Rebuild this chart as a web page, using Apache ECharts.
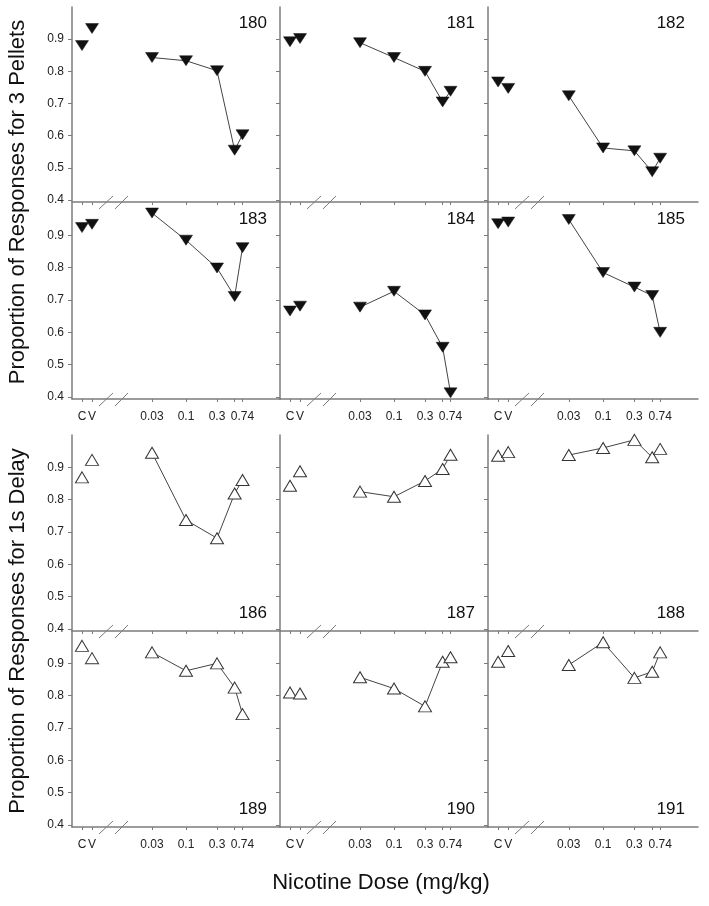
<!DOCTYPE html>
<html><head><meta charset="utf-8">
<script src="https://cdn.jsdelivr.net/npm/echarts@6/dist/echarts.min.js"></script>
<style>html,body{margin:0;padding:0;background:#fff}#c{width:709px;height:906px}</style>
</head><body><div id="c"></div>
<script>
// ---------- data ----------
const doses = [0.03, 0.1, 0.3, 0.56, 0.74];
const doseTickLabels = ['0.03', '0.1', '0.3', '', '0.74'];
const controlLabels = ['C', 'V'];
const yTicks = [0.4, 0.5, 0.6, 0.7, 0.8, 0.9];
const subjects = ['180','181','182','183','184','185','186','187','188','189','190','191'];

// C, V values
const c180 = [0.88, 0.933];  const d180 = [0.843, 0.833, 0.802, 0.555, 0.603];
const c181 = [0.892, 0.902]; const d181 = [0.889, 0.843, 0.800, 0.705, 0.738];
const c182 = [0.767, 0.747]; const d182 = [0.724, 0.562, 0.553, 0.488, 0.530];
const c183 = [0.924, 0.934]; const d183 = [0.969, 0.885, 0.799, 0.711, 0.862];
const c184 = [0.666, 0.681]; const d184 = [0.678, 0.727, 0.654, 0.554, 0.413];
const c185 = [0.936, 0.941]; const d185 = [0.949, 0.785, 0.740, 0.714, 0.600];
const c186 = [0.869, 0.923]; const d186 = [0.945, 0.737, 0.681, 0.819, 0.861];
const c187 = [0.843, 0.888]; const d187 = [0.825, 0.809, 0.858, 0.895, 0.939];
const c188 = [0.936, 0.947]; const d188 = [0.938, 0.960, 0.985, 0.931, 0.957];
const c189 = [0.954, 0.916]; const d189 = [0.934, 0.877, 0.900, 0.825, 0.743];
const c190 = [0.810, 0.807]; const d190 = [0.857, 0.822, 0.767, 0.905, 0.919];
const c191 = [0.905, 0.938]; const d191 = [0.895, 0.965, 0.855, 0.874, 0.934];

const ctrlData = [c180,c181,c182,c183,c184,c185,c186,c187,c188,c189,c190,c191];
const doseData = [d180,d181,d182,d183,d184,d185,d186,d187,d188,d189,d190,d191];

// ---------- layout ----------
const CTRL_POS = [-2.600, -2.446];   // axis positions (log units) of C and V
const X_MIN = -2.754, X_MAX = 0.446;
const Y_MIN = 0.394, Y_MAX = 1.0;
const lefts = [72, 280, 488], widths = [208, 208, 210];
const tops = [7, 203, 435, 631], heights = [195, 196, 196, 196];
const AX = '#7c7c7c';
const FONT = 'Liberation Sans, Arial, sans-serif';

const doseLog = doses.map(d => Math.log10(d));
const tickVals = CTRL_POS.concat(doseLog);
const labelMap = [];
CTRL_POS.forEach((p, i) => labelMap.push([p, controlLabels[i]]));
doseLog.forEach((p, i) => { if (doseTickLabels[i]) labelMap.push([p, doseTickLabels[i]]); });
const labelVals = labelMap.map(m => m[0]);
function xFmt(v) {
  for (const m of labelMap) if (Math.abs(m[0] - v) < 1e-6) return m[1];
  return '';
}

const grids = [], xAxes = [], yAxes = [], series = [], graphics = [];
subjects.forEach((s, i) => {
  const row = Math.floor(i / 3), col = i % 3;
  const L = lefts[col], T = tops[row], W = widths[col], H = heights[row];
  grids.push({ left: L, top: T, width: W, height: H, containLabel: false, outerBoundsMode: 'none' });
  xAxes.push({
    type: 'value', gridIndex: i, min: X_MIN, max: X_MAX,
    axisLine: { show: true, onZero: false, lineStyle: { color: AX, width: 1.5 } },
    axisTick: { show: true, inside: false, length: 3, customValues: tickVals, lineStyle: { color: AX, width: 1 } },
    axisLabel: { show: row % 2 === 1, customValues: labelVals, formatter: xFmt, margin: 12,
      fontSize: 12, color: '#222', fontFamily: FONT, hideOverlap: false },
    splitLine: { show: false }
  });
  yAxes.push({
    type: 'value', gridIndex: i, min: Y_MIN, max: Y_MAX,
    axisLine: { show: true, onZero: false, lineStyle: { color: AX, width: 1.5 } },
    axisTick: { show: true, inside: false, length: 4, customValues: yTicks, lineStyle: { color: AX, width: 1 } },
    axisLabel: { show: col === 0, customValues: yTicks, formatter: v => v.toFixed(1), margin: 8,
      fontSize: 12, color: '#222', fontFamily: FONT },
    splitLine: { show: false }
  });
  const filled = row < 2;
  const sym = filled
    ? { symbol: 'triangle', symbolRotate: 180, symbolSize: [13, 10], itemStyle: { color: '#111', borderColor: '#111', borderWidth: 0.5, opacity: 1 } }
    : { symbol: 'triangle', symbolRotate: 0, symbolSize: [13, 11], itemStyle: { color: '#fff', borderColor: '#333', borderWidth: 1, opacity: 1 } };
  series.push(Object.assign({
    type: 'scatter', xAxisIndex: i, yAxisIndex: i, z: 3,
    data: CTRL_POS.map((p, k) => [p, ctrlData[i][k]])
  }, sym));
  series.push(Object.assign({
    type: 'line', xAxisIndex: i, yAxisIndex: i, z: 3, showSymbol: true,
    lineStyle: { color: '#444', width: 1 },
    data: doseLog.map((p, k) => [p, doseData[i][k]])
  }, sym));
  // panel label
  graphics.push({
    type: 'text', z: 10,
    style: { text: s, x: L + W - 13, y: row < 2 ? T + 16 : T + H - 18,
      textAlign: 'right', textVerticalAlign: 'middle', align: 'right', verticalAlign: 'middle',
      fontSize: 17, fontFamily: FONT, fill: '#111' }
  });
  // axis break marks
  const B = T + H;
  [[27, 41], [43, 56]].forEach(([a, b]) => {
    graphics.push({ type: 'line', z: 10,
      shape: { x1: L + a, y1: B + 7, x2: L + b, y2: B - 6 },
      style: { stroke: AX, lineWidth: 1 } });
  });
});

graphics.push({ type: 'text', z: 10, x: 18, y: 202, rotation: Math.PI / 2,
  style: { text: 'Proportion of Responses for 3 Pellets', x: 0, y: 0, textAlign: 'center', textVerticalAlign: 'middle',
    align: 'center', verticalAlign: 'middle', fontSize: 22, fontFamily: FONT, fill: '#111' } });
graphics.push({ type: 'text', z: 10, x: 18, y: 631, rotation: Math.PI / 2,
  style: { text: 'Proportion of Responses for 1s Delay', x: 0, y: 0, textAlign: 'center', textVerticalAlign: 'middle',
    align: 'center', verticalAlign: 'middle', fontSize: 22, fontFamily: FONT, fill: '#111' } });
graphics.push({ type: 'text', z: 10,
  style: { text: 'Nicotine Dose (mg/kg)', x: 381, y: 883, textAlign: 'center', textVerticalAlign: 'middle',
    align: 'center', verticalAlign: 'middle', fontSize: 22, fontFamily: FONT, fill: '#111' } });

const chart = echarts.init(document.getElementById('c'), null, { renderer: 'canvas' });
chart.setOption({
  animation: false,
  backgroundColor: '#fff',
  grid: grids, xAxis: xAxes, yAxis: yAxes, series: series, graphic: graphics
});
</script>
</body></html>
